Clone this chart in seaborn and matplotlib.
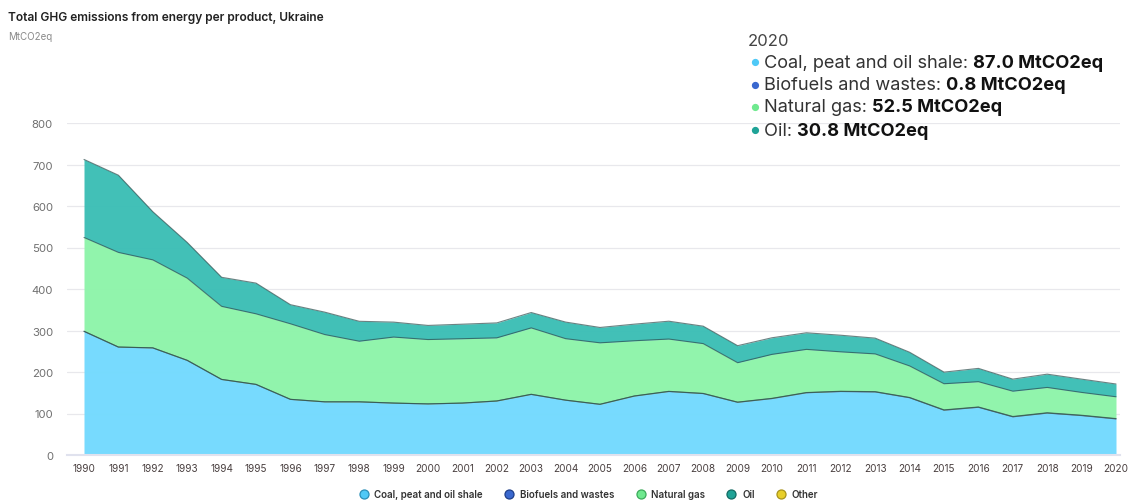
import numpy as np
import pandas as pd
import matplotlib
matplotlib.use("Agg")
import matplotlib.pyplot as plt
from matplotlib.lines import Line2D
import seaborn as sns

years = list(range(1990, 2021))
coal = [298, 260, 258, 228, 182, 170, 134, 128, 128, 125, 123, 125, 130, 146, 132, 122,
        142, 153, 148, 127, 136, 150, 153, 152, 138, 108, 115, 92, 101, 95, 87.0]
biofuels = [0.2, 0.2, 0.2, 0.2, 0.2, 0.2, 0.2, 0.2, 0.2, 0.2, 0.2, 0.2, 0.3, 0.3, 0.3, 0.3,
            0.3, 0.4, 0.4, 0.4, 0.5, 0.5, 0.6, 0.6, 0.6, 0.7, 0.7, 0.8, 0.8, 0.8, 0.8]
natural_gas = [226, 228, 212, 198, 176, 170, 182, 162, 146, 159, 155, 155, 152, 160, 148, 148,
               133, 126, 120, 95, 106, 104, 95, 91, 76, 63, 61, 61, 61, 55, 52.5]
oil = [188, 186, 116, 86, 70, 74, 46, 54, 48, 36, 34, 35, 36, 37, 40, 37,
       40, 43, 42, 41, 40, 40, 40, 38, 33, 28, 32, 29, 32, 32, 30.8]
other = [0.0] * len(years)

series_names = ["Coal, peat and oil shale", "Biofuels and wastes", "Natural gas", "Oil", "Other"]
series_values = [coal, biofuels, natural_gas, oil, other]
fill_colors = ["#74DAFE", "#3E6FD2", "#8FF4AB", "#3EBFB6", "#F3DF4F"]
dot_colors = ["#4FC9F7", "#3A68CF", "#6FE98F", "#1FA397", "#E8CF2A"]
dot_edges = ["#2A8FB8", "#1F3F8A", "#3BAA5A", "#116B63", "#A8931A"]

tip_year = "2020"
unit = "MtCO2eq"

sns.set_theme(style="white")
plt.rcParams["font.family"] = ["Inter", "DejaVu Sans"]

fig = plt.figure(figsize=(11.28, 5.02), dpi=100)
ax = fig.add_axes([67 / 1128, (502 - 456) / 502, (1120 - 67) / 1128, (456 - 124) / 502])

# stacked areas with a thin dark edge on top of each layer
base = np.zeros(len(years))
long_rows = []
for name, vals, col in zip(series_names, series_values, fill_colors):
    top = base + np.array(vals, dtype=float)
    if np.any(np.array(vals) > 0):
        ax.fill_between(years, base, top, color=col, alpha=0.98, linewidth=0, zorder=2)
        long_rows.append(pd.DataFrame({"year": years, "value": top, "layer": name}))
    base = top
edges = pd.concat(long_rows, ignore_index=True)
sns.lineplot(data=edges, x="year", y="value", units="layer", estimator=None,
             color="#2F4F4F", linewidth=0.8, alpha=0.7, ax=ax, zorder=3, legend=False)

ax.set_xlim(1990 - 17 / 34.4, 2020 + 4 / 34.4)
ax.set_ylim(0, 800)
ax.set_yticks(range(0, 801, 100))
ax.set_xticks(years)
ax.set_xticklabels([str(y) for y in years])
ax.tick_params(axis="y", labelsize=8.2, colors="#707070", length=0, pad=10)
ax.tick_params(axis="x", labelsize=7.2, colors="#4A4040", length=0, pad=6)
ax.grid(axis="y", color="#E8E8EC", linewidth=0.9, zorder=0)
ax.grid(axis="x", visible=False)
for s in ["top", "right", "left"]:
    ax.spines[s].set_visible(False)
ax.spines["bottom"].set_color("#E0E2EE")
ax.spines["bottom"].set_linewidth(1.5)
ax.set_xlabel("")
ax.set_ylabel("")

# title and unit
fig.text(8 / 1128, 1 - 18 / 502, "Total GHG emissions from energy per product, Ukraine",
         fontsize=8.6, fontweight="semibold", color="#222222", va="center", ha="left")
fig.text(8 / 1128, 1 - 37 / 502, unit, fontsize=7, color="#8A8A8A", va="center", ha="left")

# hover summary for the last year
fig.text(748 / 1128, 1 - 41 / 502, tip_year, fontsize=12, color="#444444", va="center", ha="left")
renderer = fig.canvas.get_renderer()
row_y = [63, 86, 108, 131]
for i, idx in enumerate([0, 1, 2, 3]):
    yfig = 1 - row_y[i] / 502
    fig.text(755 / 1128, yfig, "●", fontsize=7, color=dot_colors[idx], va="center", ha="center")
    t1 = fig.text(764 / 1128, yfig, series_names[idx] + ": ", fontsize=13.1,
                  color="#333333", va="center", ha="left")
    bb = t1.get_window_extent(renderer=renderer)
    fig.text(bb.x1 / 1128, yfig, f"{series_values[idx][-1]:.1f} {unit}", fontsize=13.1,
             fontweight="bold", color="#111111", va="center", ha="left")

# bottom legend
handles = [Line2D([0], [0], marker="o", linestyle="", markersize=6.5,
                  markerfacecolor=c, markeredgecolor=e, markeredgewidth=0.9)
           for c, e in zip(dot_colors, dot_edges)]
fig.legend(handles, series_names, loc="center", bbox_to_anchor=(586 / 1128, 1 - 495 / 502),
           ncol=5, frameon=False, handletextpad=0.1, columnspacing=1.7,
           labelcolor="#333333", prop={"weight": "semibold", "size": 7})

fig.savefig("out.png", dpi=100, facecolor="white")
